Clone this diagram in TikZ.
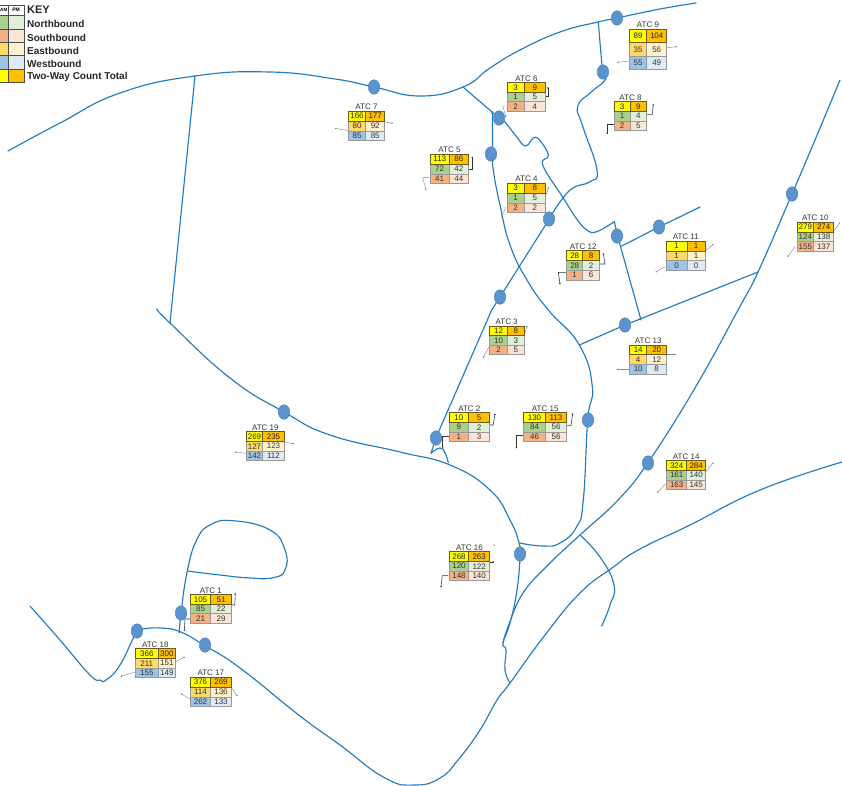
\documentclass[tikz,border=0pt]{standalone}
\usepackage{fontspec}
\setmainfont{Liberation Sans}
\usetikzlibrary{arrows.meta,shapes.geometric}
\definecolor{roadc}{HTML}{1F7CC4}
\definecolor{ptf}{HTML}{5B93CF}
\definecolor{ptd}{HTML}{4A7FB5}
\definecolor{nbA}{HTML}{A9D08E}\definecolor{nbB}{HTML}{E2EFDA}
\definecolor{sbA}{HTML}{F4B183}\definecolor{sbB}{HTML}{FCE4D6}
\definecolor{ebA}{HTML}{FFD966}\definecolor{ebB}{HTML}{FFF2CC}
\definecolor{wbA}{HTML}{9DC3E6}\definecolor{wbB}{HTML}{DEEAF6}
\definecolor{totA}{HTML}{FFFF00}\definecolor{totB}{HTML}{FFC000}
\definecolor{txt}{HTML}{333333}
\definecolor{totd}{HTML}{6B5A1E}
\tikzset{
  road/.style={draw=roadc,line width=1.15pt,line join=round,line cap=round},
  ptnode/.style={ellipse,draw=ptd,fill=ptf,line width=0.4pt,minimum width=11.5pt,minimum height=14.5pt,inner sep=0pt},
  cell/.style={rectangle,draw=black!40,line width=0.7pt,inner sep=0pt,text=txt,font=\fontsize{8}{9}\selectfont},
  totcell/.style={cell,draw=totd,line width=0.8pt,text=black!85},
  atctitle/.style={inner sep=0pt,text=txt,font=\fontsize{8}{9}\selectfont},
  leadg/.style={draw=black!45,line width=0.45pt,-{Circle[length=1.4pt,fill=black]}},
  leadk/.style={draw=black!80,line width=0.55pt,-{Circle[length=1.4pt,fill=black]}},
  keytxt/.style={anchor=west,inner sep=0pt,font=\fontsize{10}{11}\selectfont\bfseries,text=black!85},
  keycell/.style={rectangle,draw=black!70,line width=0.6pt,inner sep=0pt},
}
\newcommand\atcgeom[5]{\def\gx{#1}\def\gm{#2}\def\gy{#3}\def\gz{#4}\def\gq{#5}}
\newcommand\atccell[7]{%
 \pgfmathsetmacro\cw{#5-#4}\pgfmathsetmacro\chh{(\gq-\gy)/3}%
 \pgfmathsetmacro\cxx{(#4+#5)/2}\pgfmathsetmacro\cyy{\gy+\chh*(#6-0.5)}%
 \node[#2,fill=#3,minimum width=\cw pt,minimum height=\chh pt] (#1) at (\cxx,\cyy) {#7};}
\newcommand\atcfull[9]{%
 \pgfmathsetmacro\tty{\gy-4.4}\pgfmathsetmacro\ttx{(\gx+\gz)/2}%
 \node[atctitle] (t#1) at (\ttx,\tty) {ATC #1};%
 \atccell{c#1-2a}{cell}{#2A}{\gx}{\gm}{2}{#6}%
 \atccell{c#1-2b}{cell}{#2B}{\gm}{\gz}{2}{#7}%
 \atccell{c#1-3a}{cell}{#3A}{\gx}{\gm}{3}{#8}%
 \atccell{c#1-3b}{cell}{#3B}{\gm}{\gz}{3}{#9}%
 \atccell{c#1-1a}{totcell}{totA}{\gx}{\gm}{1}{#4}%
 \atccell{c#1-1b}{totcell}{totB}{\gm}{\gz}{1}{#5}}
\newcommand\atcN[7]{\atcfull{#1}{nb}{sb}{#2}{#3}{#4}{#5}{#6}{#7}}
\newcommand\atcE[7]{\atcfull{#1}{eb}{wb}{#2}{#3}{#4}{#5}{#6}{#7}}
\begin{document}
\begin{tikzpicture}[x=1pt,y=-1pt]
\useasboundingbox (0,0) rectangle (842,785);
\clip (0,0) rectangle (842,785);
% ---------- roads ----------
\draw[road] plot[smooth,tension=0.8] coordinates {(8,151) (60,123) (120,93) (195,76) (270,72) (335,79) (374,87) (420,96) (463,87) (490,68) (520,50) (560,32) (598,22) (617,18) (660,9) (696,3)};
\draw[road] (195,76) -- (170,323);
\draw[road] plot[smooth,tension=0.8] coordinates {(157,309) (170,323) (230,378) (284,412) (330,435) (400,452) (450,465) (490,490) (510,520) (519,543) (520,556) (517,590) (510,623) (503,643) (506,650) (505,670) (510,683)};
\draw[road] plot[smooth,tension=0.8] coordinates {(519.7,543) (543,546) (560,543) (576.7,526.7) (583.3,500) (587.7,420) (592.3,386.7) (579.3,345) (548.3,310) (527,280) (510,245) (500,205) (493.3,170) (492.7,153) (492.3,111.7)};
\draw[road] (463,87) -- (499,118);
\draw[road] plot[smooth,tension=0.7] coordinates {(499,118) (505,122) (516,136) (525.7,146) (536,137.3) (548.3,155) (542.7,165) (563.3,198) (576,218) (586.7,230) (596.7,231.7) (614.3,221.7)};
\draw[road] (614.3,221.7) -- (617.3,235) -- (641,320);
\draw[road] (621.7,246) -- (659,227) -- (700,207);
\draw[road] plot[smooth,tension=0.8] coordinates {(598.3,22) (602.7,71.7) (605,80) (590,93) (577.7,106.7) (583,127) (597,170) (590,181.7) (573,188) (560,202) (549.3,219)};
\draw[road] (549.3,219) -- (500,297) -- (491.7,310) -- (436,437.7) -- (431,453.3);
\draw[road] plot[smooth,tension=0.9] coordinates {(431,453.3) (440,448) (445,453) (448.3,462.7)};
\draw[road] plot[smooth,tension=0.7] coordinates {(840,80) (815,140) (792,194) (758,272) (738,310) (695,388) (647.7,463) (618,500) (580,535) (550,563) (523,593) (508,627) (503,643)};
\draw[road] (758,272) -- (625,325) -- (579.3,345);
\draw[road] plot[smooth,tension=0.8] coordinates {(842,462) (760,490) (690,525) (640,549) (612,568) (580,593) (545,635) (510,683) (497,700) (480,730) (458,760) (440,778) (415,785) (385,778) (340,745) (300,716) (240,668) (205,645.7) (180,631.7) (160,628) (143,629) (137,631) (120,665) (106,680) (100,680) (90,675) (60,640) (30,606)};
\draw[road] plot[smooth,tension=0.8] coordinates {(580,535) (600,557) (614,585) (610,605) (601.7,626)};
\draw[road] plot[smooth,tension=0.8] coordinates {(179.3,632.7) (181,613) (187.3,571) (196.7,540) (210,525) (233,520.7) (270,530) (285,550) (285,570) (273,577.7) (250,578) (220,575) (187.3,571)};
% ---------- count stations ----------
\foreach \n/\x/\y in {a/374/87,b/617/18,c/603/72,d/499/118,e/491/154,f/549/219,g/500/297,h/617/236,i/659/227,j/792/194,k/625/325,l/588/420,m/436/438,o/648/463,p/284/412,q/520/554,r/181/613,s/137/631,u/205/645}
  \node[ptnode] (st\n) at (\x,\y) {};
% ---------- leaders ----------
\draw[leadg] (384.7,122) -- (392.7,123.3);
\draw[leadg] (348.3,130.7) -- (335,128.3);
\draw[leadk] (544,96) -- (548,96) -- (548,87.3);
\draw[leadg] (506.7,106) -- (502.7,106) -- (506,117);
\draw[leadk] (467.7,169) -- (472.3,169) -- (472.3,156.7);
\draw[leadg] (429,177.7) -- (422.7,177.7) -- (426,190);
\draw[leadg] (545,198.3) -- (548.7,187.3);
\draw[leadg] (505.7,207.3) -- (501.7,216.7);
\draw[leadg] (666.7,47.7) -- (676.7,46.7);
\draw[leadg] (629.3,61) -- (617.3,62.3);
\draw[leadk] (644.3,114.3) -- (652.3,114.3) -- (653.3,104.3);
\draw[leadk] (614,124.3) -- (607.3,124.3) -- (607.3,134);
\draw[leadg] (705.3,250.7) -- (713.3,244.3);
\draw[leadg] (665,266.7) -- (655.7,272);
\draw[leadk] (598.3,264) -- (605,264) -- (603.3,253.3);
\draw[leadk] (566,272.3) -- (558.3,272.3) -- (560,284.3);
\draw[leadg] (833.3,231.7) -- (840,222.7);
\draw[leadg] (795,246.7) -- (787.7,256.7);
\draw[leadg] (524,335) -- (527.3,326);
\draw[leadg] (489,346.7) -- (483.3,357.7);
\draw[leadg] (666.7,354.3) -- (676,354.3);
\draw[leadg] (629.3,369.3) -- (616.7,369.3);
\draw[leadk] (488.3,425) -- (493.3,425) -- (495,414);
\draw[leadk] (449,436.7) -- (442.7,436.7) -- (442.7,447.7);
\draw[leadk] (566,425.7) -- (571,425.7) -- (572.7,413.3);
\draw[leadk] (523.3,435.3) -- (516.3,435.3) -- (516.3,448.3);
\draw[leadg] (703.3,475) -- (713.3,462.7);
\draw[leadg] (666,483.3) -- (657.3,492.7);
\draw[leadg] (284.3,442.3) -- (294,443.7);
\draw[leadg] (246,453.3) -- (235,452);
\draw[leadk] (230,605) -- (234.7,605) -- (235.3,593.3);
\draw[leadk] (190,619) -- (185,619) -- (184.3,630.7);
\draw[leadg] (175.3,661.7) -- (184.7,657);
\draw[leadg] (134.3,672.3) -- (120.7,676.3);
\draw[leadg] (231,687.3) -- (237.3,696);
\draw[leadg] (190,699) -- (181,693.7);
\draw[leadk] (488.3,562) -- (494,562);
\fill[black!70] (494,545) circle (0.6pt);
\draw[leadk] (448.3,575.7) -- (442.3,575.7) -- (441,587.3);
% ---------- count tables ----------
\atcgeom{348.3}{365.7}{111.3}{384.7}{140.7}\atcE{7}{166}{177}{80}{92}{85}{85}
\atcgeom{507.3}{524}{82.7}{545.7}{111.3}\atcN{6}{3}{9}{1}{5}{2}{4}
\atcgeom{430.3}{449}{154.3}{468.7}{183.7}\atcN{5}{113}{86}{72}{42}{41}{44}
\atcgeom{507.3}{524}{183.3}{545.7}{212.7}\atcN{4}{3}{8}{1}{5}{2}{2}
\atcgeom{629.3}{646.7}{29.3}{666.7}{69.3}\atcE{9}{89}{104}{35}{56}{55}{49}
\atcgeom{614.3}{630}{101.7}{646.7}{130.7}\atcN{8}{3}{9}{1}{4}{2}{5}
\atcgeom{666.3}{687}{241.3}{705.3}{270.3}\atcE{11}{1}{1}{1}{1}{0}{0}
\atcgeom{566.7}{582.7}{250.7}{599.7}{280}\atcN{12}{28}{8}{28}{2}{1}{6}
\atcgeom{797}{813.7}{222.3}{833.7}{251.3}\atcN{10}{279}{274}{124}{138}{155}{137}
\atcgeom{489.3}{507.7}{326}{524}{354.7}\atcN{3}{12}{8}{10}{3}{2}{5}
\atcgeom{629.7}{646.7}{345}{666.7}{374}\atcE{13}{14}{20}{4}{12}{10}{8}
\atcgeom{449}{468.7}{412.7}{489.7}{441.7}\atcN{2}{10}{5}{9}{2}{1}{3}
\atcgeom{523.7}{545.3}{412.7}{566.7}{441.7}\atcN{15}{130}{113}{84}{56}{46}{56}
\atcgeom{666.7}{686.7}{460.7}{705.7}{489.7}\atcN{14}{324}{284}{161}{140}{163}{145}
\atcgeom{246.3}{262.7}{431.7}{284.3}{460.7}\atcE{19}{269}{235}{127}{123}{142}{112}
\atcgeom{190.3}{210.7}{594.7}{231.3}{623.3}\atcN{1}{105}{51}{85}{22}{21}{29}
\atcgeom{135.3}{158.3}{648.7}{175.3}{677.7}\atcE{18}{366}{300}{211}{151}{155}{149}
\atcgeom{190.3}{210.7}{677.3}{231.3}{706.7}\atcE{17}{376}{269}{114}{136}{262}{133}
\atcgeom{449.3}{468.7}{551.7}{489.7}{580.7}\atcN{16}{268}{263}{120}{122}{148}{140}
% ---------- key ----------
\foreach \n/\ya/\yb/\ca/\cb in {1/15/29/nbA/nbB,2/29/42.7/sbA/sbB,3/42.7/55.7/ebA/ebB,4/55.7/69/wbA/wbB,5/69/82.3/totA/totB}{
  \pgfmathsetmacro\hh{\yb-\ya}\pgfmathsetmacro\mm{(\ya+\yb)/2}
  \node[keycell,fill=\ca,minimum width=16.3pt,minimum height=\hh pt] (ka\n) at (0,\mm) {};
  \node[keycell,fill=\cb,minimum width=15.7pt,minimum height=\hh pt] (kb\n) at (16.15,\mm) {};
}
\node[keycell,fill=white,minimum width=16.3pt,minimum height=10pt] (kam) at (0,10) {};
\node[keycell,fill=white,minimum width=15.7pt,minimum height=10pt,font=\fontsize{5}{6}\selectfont\bfseries] (kpm) at (16.15,10) {PM};
\node[anchor=east,inner sep=0pt,font=\fontsize{4.6}{5}\selectfont\bfseries] (kamt) at (7.6,10) {AM};
\node[keytxt,font=\fontsize{11}{12}\selectfont\bfseries] (kkey) at (27,10) {KEY};
\node[keytxt] (k1) at (27,23.7) {Northbound};
\node[keytxt] (k2) at (27,37.7) {Southbound};
\node[keytxt] (k3) at (27,50.7) {Eastbound};
\node[keytxt] (k4) at (27,63.7) {Westbound};
\node[keytxt] (k5) at (27,76.7) {Two-Way Count Total};
\end{tikzpicture}
\end{document}
